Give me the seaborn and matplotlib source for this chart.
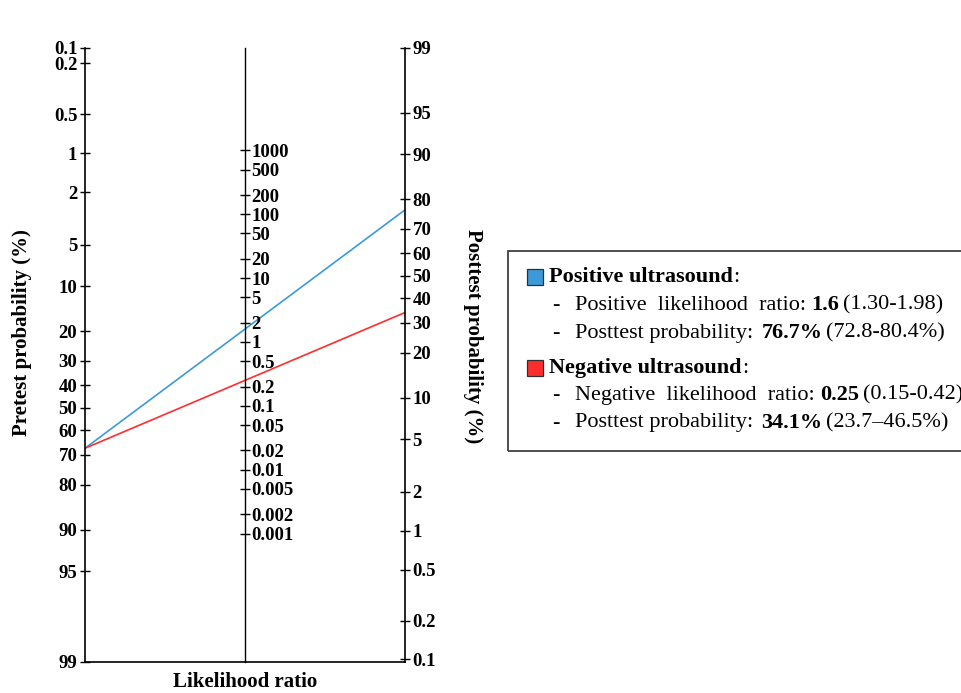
import matplotlib
matplotlib.use("Agg")
import matplotlib.pyplot as plt
import matplotlib.patches as mpatches
import seaborn as sns
import numpy as np
import pandas as pd


# data
pretest_ticks = [0.1, 0.2, 0.5, 1, 2, 5, 10, 20, 30, 40, 50, 60, 70, 80, 90, 95, 99]
posttest_ticks = [99, 95, 90, 80, 70, 60, 50, 40, 30, 20, 10, 5, 2, 1, 0.5, 0.2, 0.1]
lr_ticks = [1000, 500, 200, 100, 50, 20, 10, 5, 2, 1,
            0.5, 0.2, 0.1, 0.05, 0.02, 0.01, 0.005, 0.002, 0.001]

tests = ["Positive ultrasound", "Negative ultrasound"]
lr_names = ["Positive", "Negative"]
pretest = [67.4, 67.4]
posttest = [76.7, 34.1]
lr_values = ["1.6", "0.25"]
lr_ci = ["(1.30-1.98)", "(0.15-0.42)"]
post_ci = ["(72.8-80.4%)", "(23.7\u201346.5%)"]
colors = ["#3d9ad8", "#ff2e2e"]


# Fagan scales (logit units); the two probability scales are shifted by OFFSET
OFFSET = 1.19
YLIM = (-5.77, 5.30)


def logit(p):
    p = np.asarray(p, dtype=float) / 100
    return np.log(p / (1 - p))


def pre_y(p):
    return np.clip(-logit(p) - OFFSET, *YLIM)


def post_y(p):
    return np.clip(logit(p) + OFFSET, *YLIM)


def lr_y(v):
    return np.log(np.asarray(v, dtype=float)) / 2


def fmt(v):
    return f"{v:g}"


sns.set_style("ticks", {"axes.edgecolor": "black", "xtick.color": "black",
                        "ytick.color": "black", "text.color": "black"})
plt.rcParams["font.family"] = ["Liberation Serif", "DejaVu Serif"]

W, H = 961, 693
fig = plt.figure(figsize=(W / 100, H / 100), dpi=100)


def fx(x):
    return x / W


def fy(y):
    return 1 - y / H


ax = fig.add_axes([fx(85), 31 / H, 320 / W, 614 / H])

lines = pd.DataFrame({
    "test": np.repeat(tests, 2),
    "x": [-1, 1] * len(tests),
    "y": np.ravel([[pre_y(a), post_y(b)] for a, b in zip(pretest, posttest)]),
})
sns.lineplot(data=lines, x="x", y="y", hue="test", palette=dict(zip(tests, colors)),
             ax=ax, legend=False, lw=1.2)

ax.set_xlim(-1, 1)
ax.set_ylim(YLIM)
ax.set_xticks([])
ax.set_xlabel("")
ax.set_ylabel("")
for s in ["top", "right"]:
    ax.spines[s].set_visible(False)
for s in ["left", "bottom"]:
    ax.spines[s].set_linewidth(1.2)
ax.set_yticks(pre_y(pretest_ticks), [fmt(v) for v in pretest_ticks],
              fontweight="bold", fontsize=13.5)
ax.tick_params(axis="y", left=True, direction="inout", length=7, width=1, pad=2)

# right axis: posttest probability
ax_r = ax.twinx()
ax_r.set_ylim(YLIM)
for s in ["top", "left", "bottom"]:
    ax_r.spines[s].set_visible(False)
ax_r.spines["right"].set_linewidth(1.2)
ax_r.set_yticks(post_y(posttest_ticks), [fmt(v) for v in posttest_ticks],
                fontweight="bold", fontsize=13.5)
ax_r.tick_params(axis="y", right=True, direction="inout", length=7, width=1, pad=2)

# middle axis: likelihood ratio
ax_m = ax.twinx()
ax_m.set_ylim(YLIM)
for s in ["top", "left", "bottom"]:
    ax_m.spines[s].set_visible(False)
ax_m.spines["right"].set_position(("axes", 0.5))
ax_m.spines["right"].set_linewidth(1.0)
ax_m.set_yticks(lr_y(lr_ticks), [fmt(v) for v in lr_ticks],
                fontweight="bold", fontsize=13.5)
ax_m.tick_params(axis="y", right=True, direction="inout", length=7, width=1, pad=1)

fig.text(fx(22), fy(333), "Pretest probability (%)", rotation=90, ha="center",
         va="center", fontweight="bold", fontsize=15)
fig.text(fx(473), fy(336), "Posttest probability (%)", rotation=-90, ha="center",
         va="center", fontweight="bold", fontsize=15)
fig.text(fx(245), fy(692), "Likelihood ratio", ha="center", va="bottom",
         fontweight="bold", fontsize=15)

# legend box with the summary
LFS = 16
fig.add_artist(mpatches.Rectangle((fx(508), fy(451)), fx(600), 200 / H,
                                  transform=fig.transFigure, fill=False,
                                  ec="#404040", lw=1.3))


def row(x, y, parts):
    text, weight, _ = parts[0]
    t = fig.text(fx(x), fy(y), text, ha="left", va="center",
                 fontweight=weight, fontsize=LFS)
    for text, weight, gap in parts[1:]:
        t = ax.annotate(text, xy=(1, 0.5), xycoords=t, xytext=(gap, 0),
                        textcoords="offset points", ha="left", va="center",
                        fontweight=weight, fontsize=LFS, annotation_clip=False)


row_y = [277, 305, 333, 368, 395, 423]
for i, name in enumerate(tests):
    y0, y1, y2 = row_y[3 * i: 3 * i + 3]
    fig.add_artist(mpatches.Rectangle((fx(527), fy(y0 + 8)), 16 / W, 16 / H,
                                      transform=fig.transFigure, fc=colors[i],
                                      ec="#303030", lw=0.9))
    row(549, y0, [(name, "bold", 0), (":", "normal", 0.5)])
    fig.text(fx(552), fy(y1), "-", ha="left", va="center", fontsize=LFS)
    fig.text(fx(552), fy(y2), "-", ha="left", va="center", fontsize=LFS)
    row(575, y1, [(f"{lr_names[i]}  likelihood  ratio:", "normal", 0),
                  (lr_values[i], "bold", 4), (lr_ci[i], "normal", 2.5)])
    row(575, y2, [("Posttest probability:", "normal", 0),
                  (f"{posttest[i]:.1f}%", "bold", 6), (post_ci[i], "normal", 2.5)])

fig.savefig("out.png", dpi=100)
